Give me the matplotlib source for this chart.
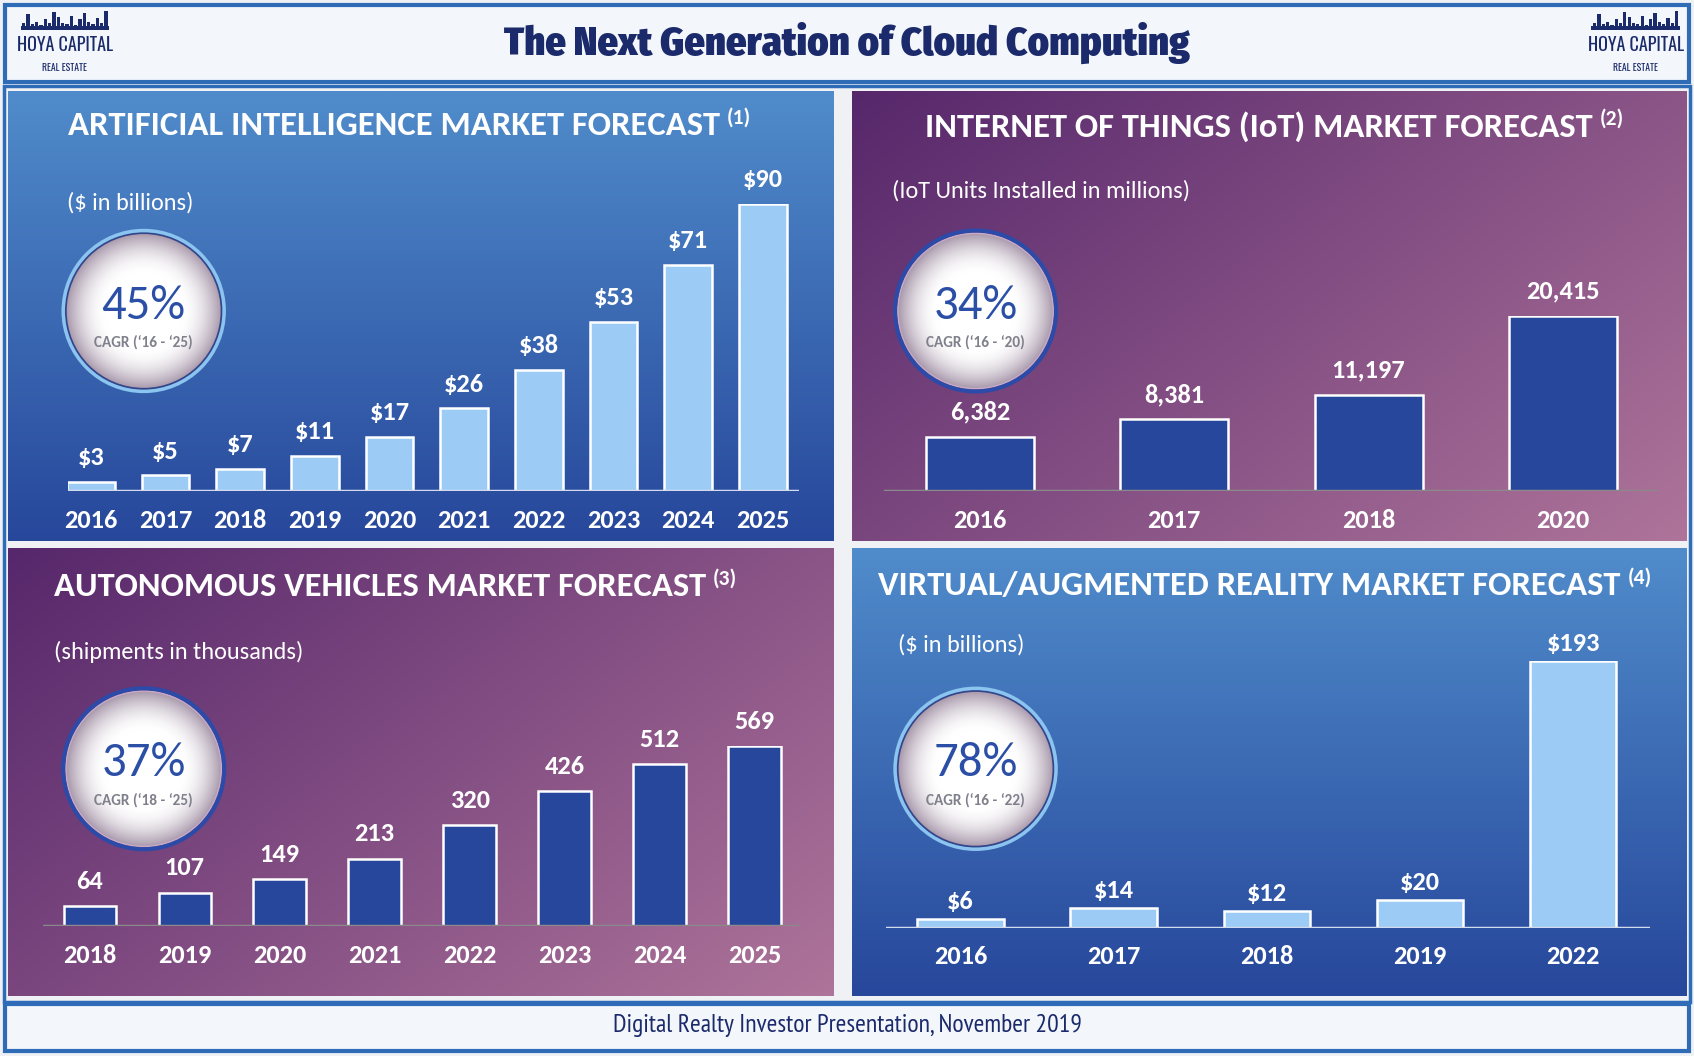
import numpy as np
import matplotlib
matplotlib.use("Agg")
import matplotlib.pyplot as plt
from matplotlib.patches import Rectangle, Circle
from matplotlib.colors import to_rgb

NARROW = ["PT Sans Narrow", "DejaVu Sans"]
HEAD = ["Fira Sans Condensed", "DejaVu Sans"]
BODY = ["Carlito", "DejaVu Sans"]
LOGO = ["Oswald", "DejaVu Sans"]

# ---- data ----
ai_years = ["2016", "2017", "2018", "2019", "2020", "2021", "2022", "2023", "2024", "2025"]
ai_values = [3, 5, 7, 11, 17, 26, 38, 53, 71, 90]

iot_years = ["2016", "2017", "2018", "2020"]
iot_values = [6382, 8381, 11197, 20415]

av_years = ["2018", "2019", "2020", "2021", "2022", "2023", "2024", "2025"]
av_values = [64, 107, 149, 213, 320, 426, 512, 569]

vr_years = ["2016", "2017", "2018", "2019", "2022"]
vr_values = [6, 14, 12, 20, 193]

titles = ["ARTIFICIAL INTELLIGENCE MARKET FORECAST",
          "INTERNET OF THINGS (IoT) MARKET FORECAST",
          "AUTONOMOUS VEHICLES MARKET FORECAST",
          "VIRTUAL/AUGMENTED REALITY MARKET FORECAST"]
notes = ["(1)", "(2)", "(3)", "(4)"]
subtitles = ["($ in billions)", "(IoT Units Installed in millions)",
             "(shipments in thousands)", "($ in billions)"]
cagr_pct = ["45%", "34%", "37%", "78%"]
cagr_span = ["CAGR (\u201816 - \u201825)", "CAGR (\u201816 - \u201820)",
             "CAGR (\u201818 - \u201825)", "CAGR (\u201816 - \u201822)"]

# ---- colours ----
NAVY = "#1b2a6b"
FRAME = "#2e6cb8"
LIGHT_BAR = "#9ccbf6"
DARK_BAR = "#27479d"
BLUE_TOP, BLUE_BOT = "#508ccb", "#27479b"
PURP_TL, PURP_BR = "#56276b", "#ae749a"

W, H = 1568, 978  # layout units (pixels of the reference)
fig = plt.figure(figsize=(16.94, 10.56), dpi=100, facecolor="#eff1f4")
bg = fig.add_axes([0, 0, 1, 1])
bg.set_xlim(0, W)
bg.set_ylim(H, 0)
bg.axis("off")


def gradient(x0, y0, x1, y1, kind):
    n = 200
    yy, xx = np.mgrid[0:1:n * 1j, 0:1:n * 1j]
    if kind == "blue":
        t = yy
        c0, c1 = np.array(to_rgb(BLUE_TOP)), np.array(to_rgb(BLUE_BOT))
    else:
        t = (xx * 0.6 + yy * 0.4)
        c0, c1 = np.array(to_rgb(PURP_TL)), np.array(to_rgb(PURP_BR))
    img = c0 + (c1 - c0) * t[..., None]
    bg.imshow(img, extent=(x0, x1, y1, y0), aspect="auto", zorder=1, interpolation="bilinear")


def badge(cx, cy, pct, span, kind):
    r = 72
    n = 200
    yy, xx = np.mgrid[-1:1:n * 1j, -1:1:n * 1j]
    d = np.clip(np.sqrt(xx ** 2 + yy ** 2), 0, 1)
    t = np.clip((d - 0.5) / 0.5, 0, 1) ** 1.8
    c0, c1 = np.array([1.0, 1.0, 1.0]), np.array(to_rgb("#a898ab"))
    img = c0 + (c1 - c0) * t[..., None]
    clip = Circle((cx, cy), r, transform=bg.transData)
    im = bg.imshow(img, extent=(cx - r, cx + r, cy + r, cy - r), aspect="auto", zorder=3)
    im.set_clip_path(clip)
    if kind == "blue":
        bg.add_patch(Circle((cx, cy), r, fill=False, ec="#34458a", lw=1.2, zorder=4))
        bg.add_patch(Circle((cx, cy), r + 2.5, fill=False, ec="#8cc4f0", lw=2.5, zorder=4))
    else:
        bg.add_patch(Circle((cx, cy), r, fill=False, ec="#c9a9c6", lw=1.2, zorder=4))
        bg.add_patch(Circle((cx, cy), r + 2.5, fill=False, ec="#2c4aa8", lw=3, zorder=4))
    bg.text(cx, cy - 5, pct, ha="center", va="center", fontsize=35, color="#2b4ea6",
            family=BODY, zorder=5)
    bg.text(cx, cy + 29, span, ha="center", va="center", fontsize=11, color="#80808c",
            family=BODY, fontweight="bold", zorder=5)


# header / footer / frames
bg.add_patch(Rectangle((5, 5), 1558, 71, fc="#f3f7fb", ec=FRAME, lw=3, zorder=2))
bg.add_patch(Rectangle((4, 80), 1560, 848, fc="none", ec=FRAME, lw=2.5, zorder=2))
bg.add_patch(Rectangle((5, 930), 1558, 43, fc="#f3f7fb", ec=FRAME, lw=3, zorder=2))
bg.text(784, 40, "The Next Generation of Cloud Computing", ha="center", va="center",
        fontsize=29, fontweight="black", color=NAVY, family=HEAD, zorder=3)
bg.text(784, 950, "Digital Realty Investor Presentation, November 2019", ha="center",
        va="center", fontsize=18.5, color=NAVY, family=NARROW, zorder=3)

# logos (skyline silhouette + wordmark)
skyline = [6, 14, 5, 7, 4, 9, 6, 16, 11, 6, 5, 12, 4, 9, 15, 7, 5, 10, 6, 17]
for lx in (60, 1514):
    xs = np.linspace(lx - 38, lx + 38, len(skyline))
    bg.bar(xs, [-h for h in skyline], width=76 / len(skyline) * 0.8, bottom=27,
           color=NAVY, zorder=3)
    bg.add_patch(Rectangle((lx - 41, 24), 82, 4, fc=NAVY, zorder=3))
    bg.text(lx, 42, "HOYA CAPITAL", ha="center", va="center", fontsize=13,
            fontweight="bold", color=NAVY, family=LOGO, zorder=3)
    bg.text(lx, 63, "REAL ESTATE", ha="center", va="center", fontsize=7,
            fontweight="bold", color=NAVY, family=LOGO, zorder=3)

# panels: (x0, y0, x1, y1, kind)
panels = [(7, 85, 771, 501, "blue"), (789, 85, 1561, 501, "purple"),
          (7, 508, 771, 922, "purple"), (789, 508, 1561, 922, "blue")]
for p in panels:
    gradient(*p)

title_pos = [(63, 116), (856, 117), (50, 543), (813, 542)]
sub_pos = [(62, 188), (826, 177), (50, 604), (831, 597)]
badge_pos = [(133, 288), (903, 288), (133, 712), (903, 712)]
for i in range(4):
    t = bg.text(title_pos[i][0], title_pos[i][1], titles[i], ha="left", va="center",
                fontsize=24.9, fontweight="bold", color="white", family=BODY, zorder=5)
    bg.annotate(notes[i], xy=(1, 1), xycoords=t, xytext=(5, 2), textcoords="offset points",
                ha="left", va="top", fontsize=15.5, fontweight="bold", color="white",
                family=BODY, zorder=5)
    bg.text(sub_pos[i][0], sub_pos[i][1], subtitles[i], ha="left", va="center",
            fontsize=17.5, color="white", family=BODY, zorder=5)
    badge(badge_pos[i][0], badge_pos[i][1], cagr_pct[i], cagr_span[i], panels[i][4])


def bar_panel(years, values, left, right, base, top, x_lo, x_hi, width, color, line_col, fmt,
              lab_off):
    ax = fig.add_axes([left / W, 1 - base / H, (right - left) / W, (base - top) / H])
    ax.patch.set_alpha(0)
    x = np.arange(len(values))
    ax.bar(x, values, width=width, color=color, edgecolor="white", linewidth=1.8, zorder=3)
    ax.axhline(0, color=line_col, lw=2.5, zorder=4)
    ax.set_xlim(x_lo, x_hi)
    ax.set_ylim(0, max(values))
    ax.axis("off")
    for xi, v, yr in zip(x, values, years):
        ax.annotate(fmt(v), xy=(xi, v), xytext=(0, lab_off), textcoords="offset points",
                    ha="center", va="center", fontsize=19, fontweight="bold",
                    color="white", family=BODY, annotation_clip=False)
        ax.annotate(yr, xy=(xi, 0), xytext=(0, -21), textcoords="offset points",
                    ha="center", va="center", fontsize=19, fontweight="bold",
                    color="white", family=BODY, annotation_clip=False)
    return ax


bar_panel(ai_years, ai_values, 63, 740, 455, 189, -0.304, 9.49, 0.64, LIGHT_BAR, "#d2dcec",
          lambda v: f"${v}", 17.5)
bar_panel(iot_years, iot_values, 818, 1535, 455, 293, -0.494, 3.49, 0.556, DARK_BAR, "#8a8a8a",
          lambda v: f"{v:,}", 18)
bar_panel(av_years, av_values, 40, 740, 858, 691, -0.489, 7.474, 0.55, DARK_BAR, "#8a8a8a",
          lambda v: f"{v}", 18)
bar_panel(vr_years, vr_values, 820, 1527, 859, 612, -0.487, 4.5, 0.565, LIGHT_BAR, "#d2dcec",
          lambda v: f"${v}", 12.5)

fig.savefig("out.png", dpi=100, facecolor=fig.get_facecolor())
